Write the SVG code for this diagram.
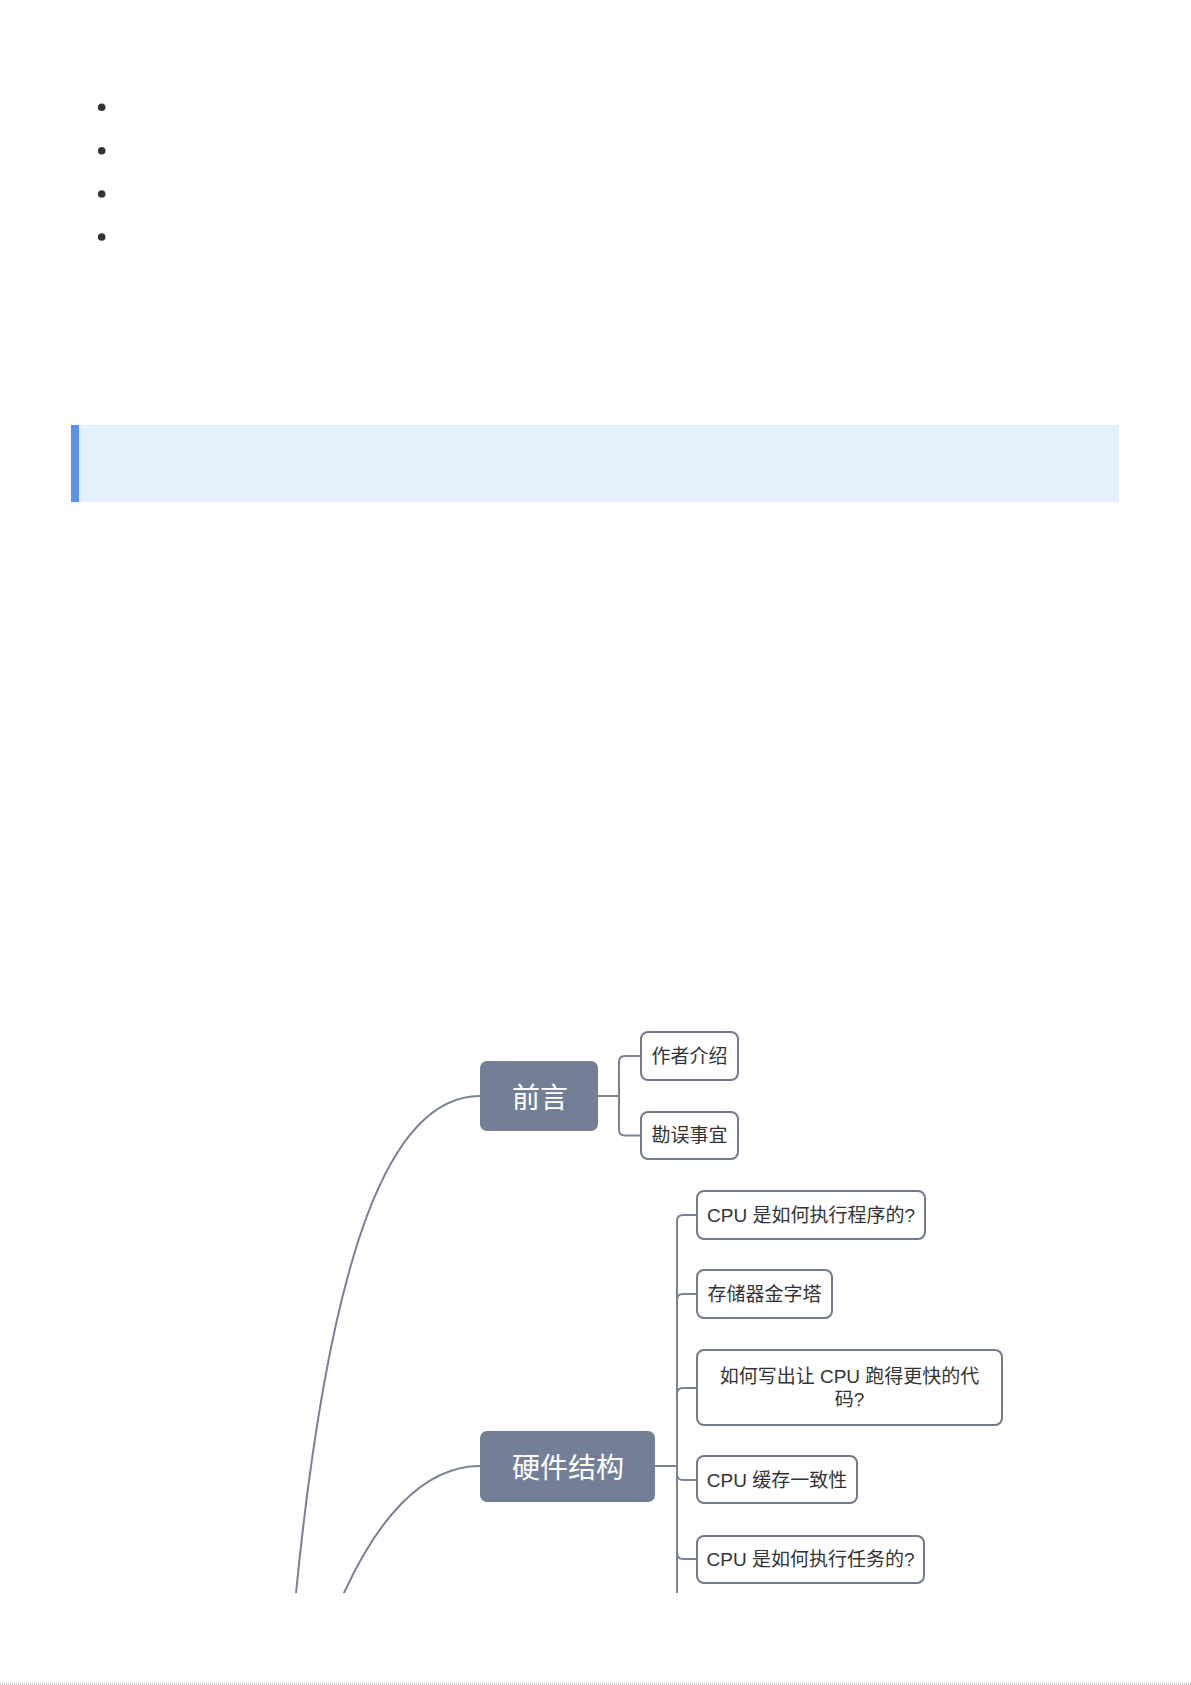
<svg xmlns="http://www.w3.org/2000/svg" width="1191" height="1685" viewBox="0 0 1191 1685">
<style>
.main rect{fill:#737f97;}
.main text{fill:#ffffff;font-family:"Noto Sans CJK SC","Liberation Sans",sans-serif;font-size:28px;text-anchor:middle;dominant-baseline:central;}
.sub rect{fill:#ffffff;stroke:#737a8c;stroke-width:2;}
.sub text{fill:#333333;font-family:"Liberation Sans","Noto Sans CJK SC",sans-serif;font-size:19px;text-anchor:middle;dominant-baseline:central;}
.conn path{fill:none;stroke:#7a8195;stroke-width:2;}
</style>
<defs>
<clipPath id="crop"><rect x="0" y="0" width="1191" height="1593"/></clipPath>
</defs>
<rect x="0" y="0" width="1191" height="1685" fill="#ffffff"/>
<g id="bullets" fill="#333333">
<circle cx="101.7" cy="107.3" r="3.8"/>
<circle cx="101.7" cy="150.7" r="3.8"/>
<circle cx="101.7" cy="194" r="3.8"/>
<circle cx="101.7" cy="237" r="3.8"/>
</g>
<g id="callout">
<rect x="71" y="425" width="1048" height="77" fill="#e3f0fc"/>
<rect x="71" y="425" width="8" height="77" fill="#5b92ec"/>
</g>
<g id="connectors" class="conn" clip-path="url(#crop)">
<path d="M480,1096 C390,1096 330,1250 296,1593 L294,1620"/>
<path d="M480,1466 C420,1466 375,1525 344,1593 L334,1615"/>
<path d="M598,1096 L619,1096"/>
<path d="M619,1096 L619,1062 Q619,1056 625,1056 L641,1056"/>
<path d="M619,1096 L619,1129.5 Q619,1135.5 625,1135.5 L641,1135.5"/>
<path d="M655,1466 L677,1466"/>
<path d="M677,1466 L677,1221 Q677,1215 683,1215 L697,1215"/>
<path d="M677,1466 L677,1300 Q677,1294 683,1294 L697,1294"/>
<path d="M677,1466 L677,1394 Q677,1388 683,1388 L697,1388"/>
<path d="M677,1466 L677,1474 Q677,1480 683,1480 L697,1480"/>
<path d="M677,1466 L677,1553 Q677,1559 683,1559 L697,1559"/>
<path d="M677,1466 L677,1600"/>
</g>
<g id="node-qianyan" class="main">
<rect x="480" y="1061" width="118" height="70" rx="7"/>
<text x="540" y="1096">前言</text>
</g>
<g id="node-zuozhe" class="sub">
<rect x="641" y="1032" width="97" height="48" rx="7"/>
<text x="689.5" y="1056">作者介绍</text>
</g>
<g id="node-kanwu" class="sub">
<rect x="641" y="1112" width="97" height="47" rx="7"/>
<text x="689.5" y="1135.5">勘误事宜</text>
</g>
<g id="node-yingjian" class="main">
<rect x="480" y="1431" width="175" height="71" rx="7"/>
<text x="568" y="1466">硬件结构</text>
</g>
<g id="node-cpu-exec" class="sub">
<rect x="697" y="1191" width="228" height="48" rx="7"/>
<text x="811" y="1215">CPU 是如何执行程序的?</text>
</g>
<g id="node-pyramid" class="sub">
<rect x="697" y="1270" width="135" height="48" rx="7"/>
<text x="764.5" y="1294">存储器金字塔</text>
</g>
<g id="node-fast-code" class="sub">
<rect x="697" y="1350" width="305" height="75" rx="7"/>
<text x="849.5" y="1376">如何写出让 CPU 跑得更快的代</text>
<text x="849.5" y="1399">码?</text>
</g>
<g id="node-cache" class="sub">
<rect x="697" y="1456" width="160" height="47" rx="7"/>
<text x="777" y="1480">CPU 缓存一致性</text>
</g>
<g id="node-cpu-task" class="sub">
<rect x="697" y="1536" width="227" height="47" rx="7"/>
<text x="810.5" y="1559">CPU 是如何执行任务的?</text>
</g>
<line id="page-edge" x1="0" y1="1684" x2="1191" y2="1684" stroke="#8a8a8a" stroke-width="1" stroke-dasharray="1,1"/>
</svg>
